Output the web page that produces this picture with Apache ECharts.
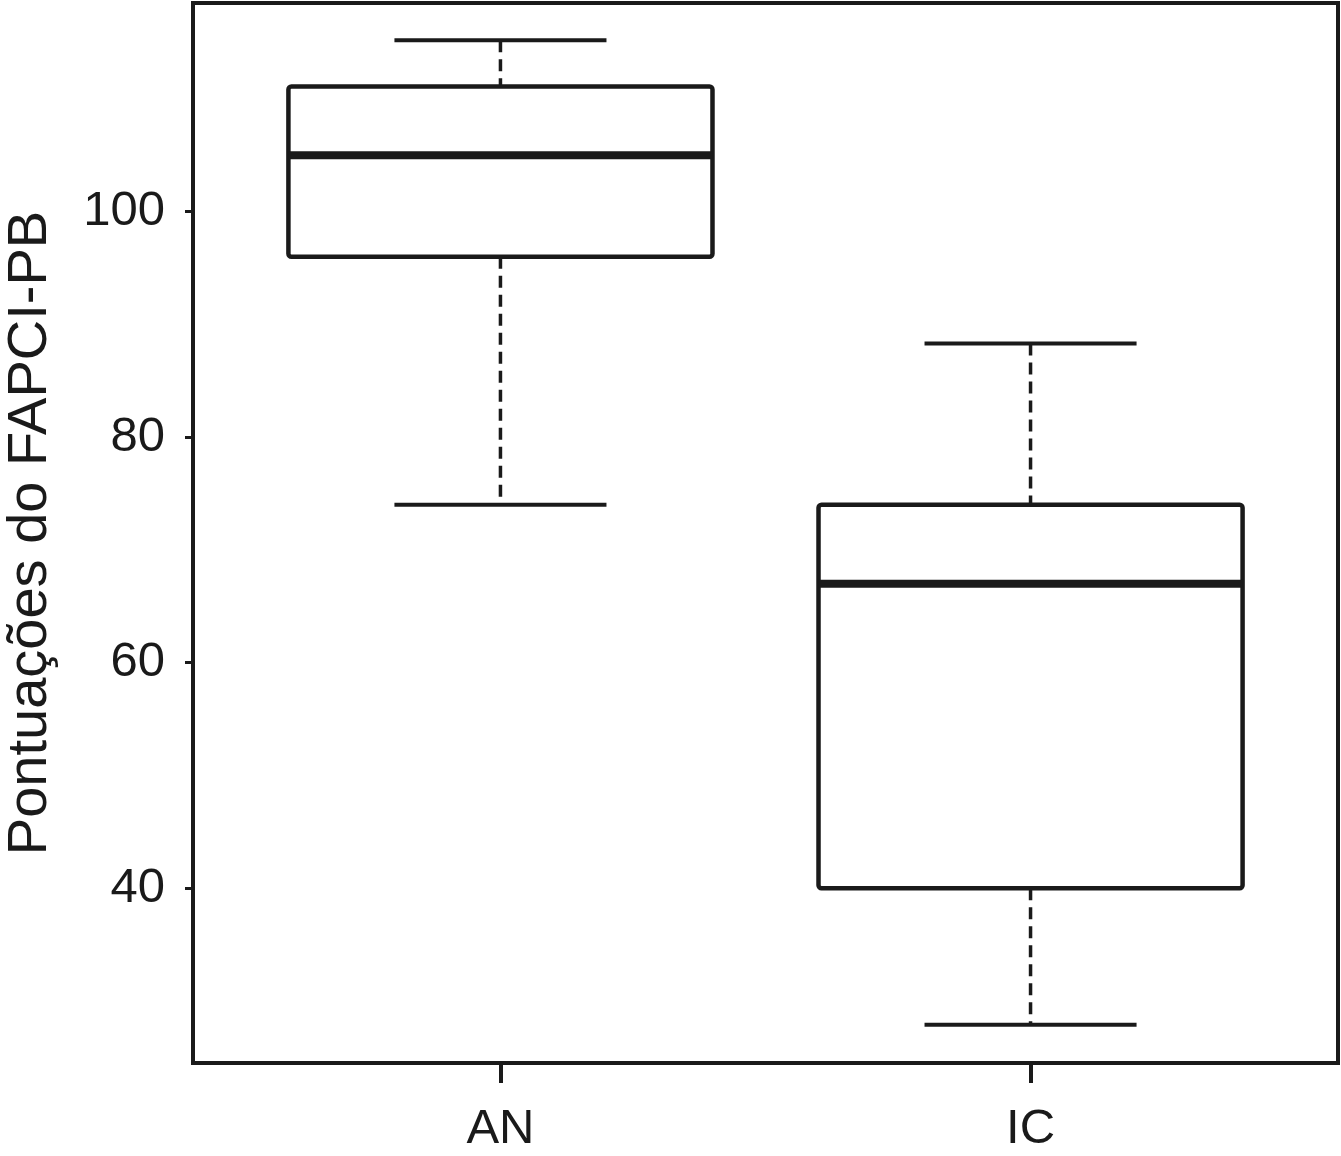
<!DOCTYPE html>
<html>
<head>
<meta charset="utf-8">
<script src="https://cdn.jsdelivr.net/npm/echarts@6/dist/echarts.min.js"></script>
<style>html,body{margin:0;padding:0;background:#fff}#c{width:1341px;height:1156px}</style>
</head>
<body>
<div id="c"></div>
<script>
var categories = ['AN', 'IC'];
var lowerWhisker = [74.0, 27.9];
var q1 = [96.0, 40.0];
var median = [105.0, 67.0];
var q3 = [111.1, 74.0];
var upperWhisker = [115.2, 88.3];
var yTicks = [40, 60, 80, 100];
var yTitle = 'Pontuações do FAPCI-PB';

var ink = '#1a1a1a';
var font = '"Liberation Sans", Arial, Helvetica, sans-serif';

var data = categories.map(function (c, i) {
  return [i + 1, lowerWhisker[i], q1[i], median[i], q3[i], upperWhisker[i]];
});

var chart = echarts.init(document.getElementById('c'), null, {renderer: 'canvas'});
chart.setOption({
  animation: false,
  backgroundColor: '#fff',
  grid: {left: 193, right: 3, top: 3, bottom: 93, containLabel: false, outerBoundsMode: 'none', show: true, borderColor: ink, borderWidth: 4, backgroundColor: 'transparent'},
  xAxis: {
    type: 'value', min: 0.42, max: 2.58,
    axisLine: {show: false},
    splitLine: {show: false},
    axisTick: {show: true, customValues: [1, 2], length: 20, lineStyle: {color: ink, width: 4}},
    axisLabel: {
      show: true, customValues: [1, 2], margin: 42,
      fontFamily: font, fontSize: 49, color: ink,
      formatter: function (v) { return categories[Math.round(v) - 1] || ''; }
    }
  },
  yAxis: {
    type: 'value', min: 24.5, max: 118.5,
    axisLine: {show: false},
    splitLine: {show: false},
    axisTick: {show: true, customValues: yTicks, length: 8, lineStyle: {color: ink, width: 3}},
    axisLabel: {show: true, customValues: yTicks, margin: 28, fontFamily: font, fontSize: 49, color: ink},
    name: yTitle, nameLocation: 'middle', nameGap: 134, nameRotate: 90,
    nameTextStyle: {fontFamily: font, fontSize: 56, color: ink}
  },
  series: [{
    type: 'custom',
    data: data,
    encode: {x: 0, y: [1, 2, 3, 4, 5]},
    renderItem: function (params, api) {
      var x = api.value(0);
      var half = api.size([0.8, 0])[0] / 2;
      var capHalf = api.size([0.4, 0])[0] / 2;
      var pLo = api.coord([x, api.value(1)]);
      var pQ1 = api.coord([x, api.value(2)]);
      var pMed = api.coord([x, api.value(3)]);
      var pQ3 = api.coord([x, api.value(4)]);
      var pHi = api.coord([x, api.value(5)]);
      var cx = pMed[0];
      var dashStyle = {stroke: ink, lineWidth: 3.5, lineDash: [12, 7], fill: null};
      var solid = {stroke: ink, lineWidth: 4, fill: null};
      return {
        type: 'group',
        children: [
          {type: 'line', shape: {x1: cx, y1: pHi[1], x2: cx, y2: pQ3[1]}, style: dashStyle},
          {type: 'line', shape: {x1: cx, y1: pQ1[1], x2: cx, y2: pLo[1]}, style: dashStyle},
          {type: 'line', shape: {x1: cx - capHalf, y1: pHi[1], x2: cx + capHalf, y2: pHi[1]}, style: solid},
          {type: 'line', shape: {x1: cx - capHalf, y1: pLo[1], x2: cx + capHalf, y2: pLo[1]}, style: solid},
          {type: 'rect', shape: {x: cx - half, y: pQ3[1], width: half * 2, height: pQ1[1] - pQ3[1], r: 3}, style: {stroke: ink, lineWidth: 4.5, fill: '#fff'}},
          {type: 'line', shape: {x1: cx - half, y1: pMed[1], x2: cx + half, y2: pMed[1]}, style: {stroke: ink, lineWidth: 8}}
        ]
      };
    }
  }]
});
</script>
</body>
</html>
